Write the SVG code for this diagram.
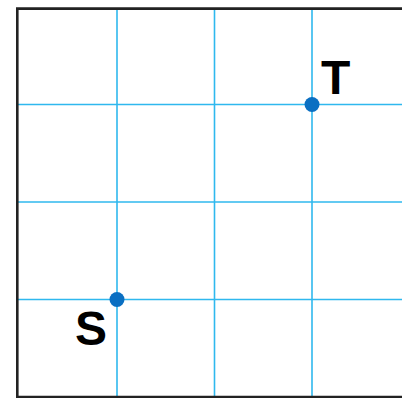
<svg xmlns="http://www.w3.org/2000/svg" width="402" height="398" viewBox="0 0 402 398">
<style>
.grid{stroke:#2fb8ee;stroke-width:1.6;fill:none}
.frame{stroke:#222;stroke-width:2.6;fill:none}
.pt{fill:#0a6fc2}
.lbl{font-family:"Liberation Sans",Arial,sans-serif;font-weight:bold;font-size:48px;fill:#000}
</style>
<rect width="402" height="398" fill="#fff"/>
<g id="grid">
<line class="grid" x1="117" y1="8" x2="117" y2="397"/>
<line class="grid" x1="214.5" y1="8" x2="214.5" y2="397"/>
<line class="grid" x1="312" y1="8" x2="312" y2="397"/>
<line class="grid" x1="17" y1="104.5" x2="402" y2="104.5"/>
<line class="grid" x1="17" y1="202" x2="402" y2="202"/>
<line class="grid" x1="17" y1="299.5" x2="402" y2="299.5"/>
</g>
<path class="frame" d="M402,8.6 H17.3 V397 H402"/>
<g id="T">
<circle class="pt" cx="312" cy="104.5" r="7.5"/>
<text class="lbl" x="321" y="94">T</text>
</g>
<g id="S">
<circle class="pt" cx="117" cy="299.5" r="7.5"/>
<text class="lbl" x="75" y="345">S</text>
</g>
</svg>
